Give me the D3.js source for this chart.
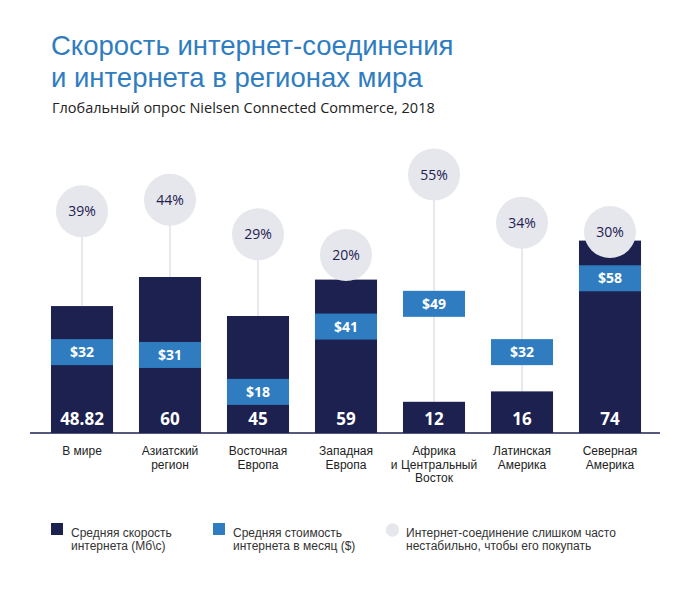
<!DOCTYPE html>
<html>
<head>
<meta charset="utf-8">
<script src="https://cdn.jsdelivr.net/npm/d3@7"></script>
<style>
    body { margin: 0; background: #fff; }
    svg { display: block; font-family: 'Open Sans', sans-serif; }
    .small { font-family: 'Liberation Sans', Arial, sans-serif; }
</style>
</head>
<body>
<svg id="chart"></svg>
<script>
// data
const regions = [
    ['В мире'],
    ['Азиатский', 'регион'],
    ['Восточная', 'Европа'],
    ['Западная', 'Европа'],
    ['Африка', 'и Центральный', 'Восток'],
    ['Латинская', 'Америка'],
    ['Северная', 'Америка'],
]
const speedValues = [48.82, 60, 45, 59, 12, 16, 74]
const speedLabels = ['48.82', '60', '45', '59', '12', '16', '74']
const costValues = [32, 31, 18, 41, 49, 32, 58]
const unstableShare = [39, 44, 29, 20, 55, 34, 30]
const legendLabels = [
    ['Средняя скорость', 'интернета (Мб\\с)'],
    ['Средняя стоимость', 'интернета в месяц ($)'],
    ['Интернет-соединение слишком часто', 'нестабильно, чтобы его покупать'],
]

const width = 683
const height = 596
const navy = '#1c2150'
const blue = '#2f7dc0'
const grey = '#e6e6ed'

const svg = d3.select('#chart').attr('width', width).attr('height', height)

// title
svg.append('text')
    .attr('class', 'small')
    .attr('x', 51)
    .attr('y', 55)
    .style('font-size', '27.5px')
    .style('fill', blue)
    .text('Скорость интернет-соединения')
svg.append('text')
    .attr('class', 'small')
    .attr('x', 51)
    .attr('y', 87)
    .style('font-size', '27.5px')
    .style('fill', blue)
    .text('и интернета в регионах мира')
svg.append('text')
    .attr('x', 52)
    .attr('y', 113)
    .style('font-size', '14.5px')
    .style('fill', '#222')
    .text('Глобальный опрос Nielsen Connected Commerce, 2018')

const baseY = 433
const keys = d3.range(regions.length)

const xScale = d3.scaleBand()
    .domain(keys)
    .range([38, 654])
    .paddingInner(0.295)
    .paddingOuter(0.1475)

const yScale = d3.scaleLinear().domain([0, 100]).range([baseY, 173])
const costScale = d3.scaleLinear().domain([0, 100]).range([443, 159])
const shareScale = d3.scaleLinear().domain([0, 100]).range([301, 71])

const bw = xScale.bandwidth()
const cx = (i) => xScale(i) + bw / 2
const bandH = 26
const r = 26

// stems from circles down to the bars
svg.append('g')
    .selectAll('line')
    .data(keys)
    .enter()
    .append('line')
    .attr('x1', (i) => cx(i))
    .attr('x2', (i) => cx(i))
    .attr('y1', (i) => shareScale(unstableShare[i]))
    .attr('y2', (i) => yScale(speedValues[i]))
    .style('stroke', '#e0e0e8')
    .style('stroke-width', 1.5)

// speed bars
svg.append('g')
    .selectAll('rect')
    .data(keys)
    .enter()
    .append('rect')
    .attr('x', (i) => xScale(i))
    .attr('y', (i) => yScale(speedValues[i]))
    .attr('width', bw)
    .attr('height', (i) => baseY - yScale(speedValues[i]))
    .style('fill', navy)

// cost bands
svg.append('g')
    .selectAll('rect')
    .data(keys)
    .enter()
    .append('rect')
    .attr('x', (i) => xScale(i))
    .attr('y', (i) => costScale(costValues[i]) - bandH / 2)
    .attr('width', bw)
    .attr('height', bandH)
    .style('fill', blue)

svg.append('g')
    .selectAll('text')
    .data(keys)
    .enter()
    .append('text')
    .attr('x', (i) => cx(i))
    .attr('y', (i) => costScale(costValues[i]) + 5)
    .attr('text-anchor', 'middle')
    .style('font-size', '14px')
    .style('font-weight', 'bold')
    .style('fill', '#fff')
    .text((i) => '$' + costValues[i])

// speed labels
svg.append('g')
    .selectAll('text')
    .data(keys)
    .enter()
    .append('text')
    .attr('x', (i) => cx(i))
    .attr('y', baseY - 8)
    .attr('text-anchor', 'middle')
    .style('font-size', '17px')
    .style('font-weight', 'bold')
    .style('fill', '#fff')
    .text((i) => speedLabels[i])

// circles
const circles = svg.append('g')
    .selectAll('g')
    .data(keys)
    .enter()
    .append('g')
    .attr('transform', (i) => 'translate(' + cx(i) + ',' + shareScale(unstableShare[i]) + ')')
circles.append('circle')
    .attr('r', r)
    .style('fill', grey)
circles.append('text')
    .attr('y', 5)
    .attr('text-anchor', 'middle')
    .style('font-size', '14px')
    .style('fill', navy)
    .text((i) => unstableShare[i] + '%')

// baseline
svg.append('line')
    .attr('x1', 30)
    .attr('x2', 660)
    .attr('y1', baseY)
    .attr('y2', baseY)
    .style('stroke', navy)
    .style('stroke-width', 1.5)

// category labels
const xAxis = svg.append('g')
    .attr('transform', 'translate(0,' + baseY + ')')
    .call(d3.axisBottom(xScale).tickSize(0).tickFormat(''))
xAxis.select('.domain').remove()
xAxis.selectAll('.tick text').remove()
xAxis.selectAll('.tick')
    .append('text')
    .attr('class', 'small')
    .attr('text-anchor', 'middle')
    .style('font-size', '12px')
    .style('fill', '#222')
    .selectAll('tspan')
    .data((i) => regions[i])
    .enter()
    .append('tspan')
    .attr('x', 0)
    .attr('y', (d, j) => 22 + j * 13.5)
    .text((d) => d)

// legend
const legendX = [51, 213, 386]
const legend = svg.append('g')
    .selectAll('g')
    .data(legendLabels)
    .enter()
    .append('g')
    .attr('transform', (d, i) => 'translate(' + legendX[i] + ',523)')
legend.each(function (d, i) {
    const g = d3.select(this)
    if (i < 2) {
        g.append('rect')
            .attr('width', 12)
            .attr('height', 12)
            .style('fill', i === 0 ? navy : blue)
    } else {
        g.append('circle')
            .attr('cx', 6.5)
            .attr('cy', 7)
            .attr('r', 6.7)
            .style('fill', grey)
    }
    g.append('text')
        .attr('class', 'small')
        .attr('x', 20)
        .attr('y', 13.5)
        .style('font-size', '12px')
        .style('fill', '#333')
        .selectAll('tspan')
        .data(d)
        .enter()
        .append('tspan')
        .attr('x', 20)
        .attr('dy', (t, j) => (j === 0 ? 0 : 13.5))
        .text((t) => t)
})
</script>
</body>
</html>
